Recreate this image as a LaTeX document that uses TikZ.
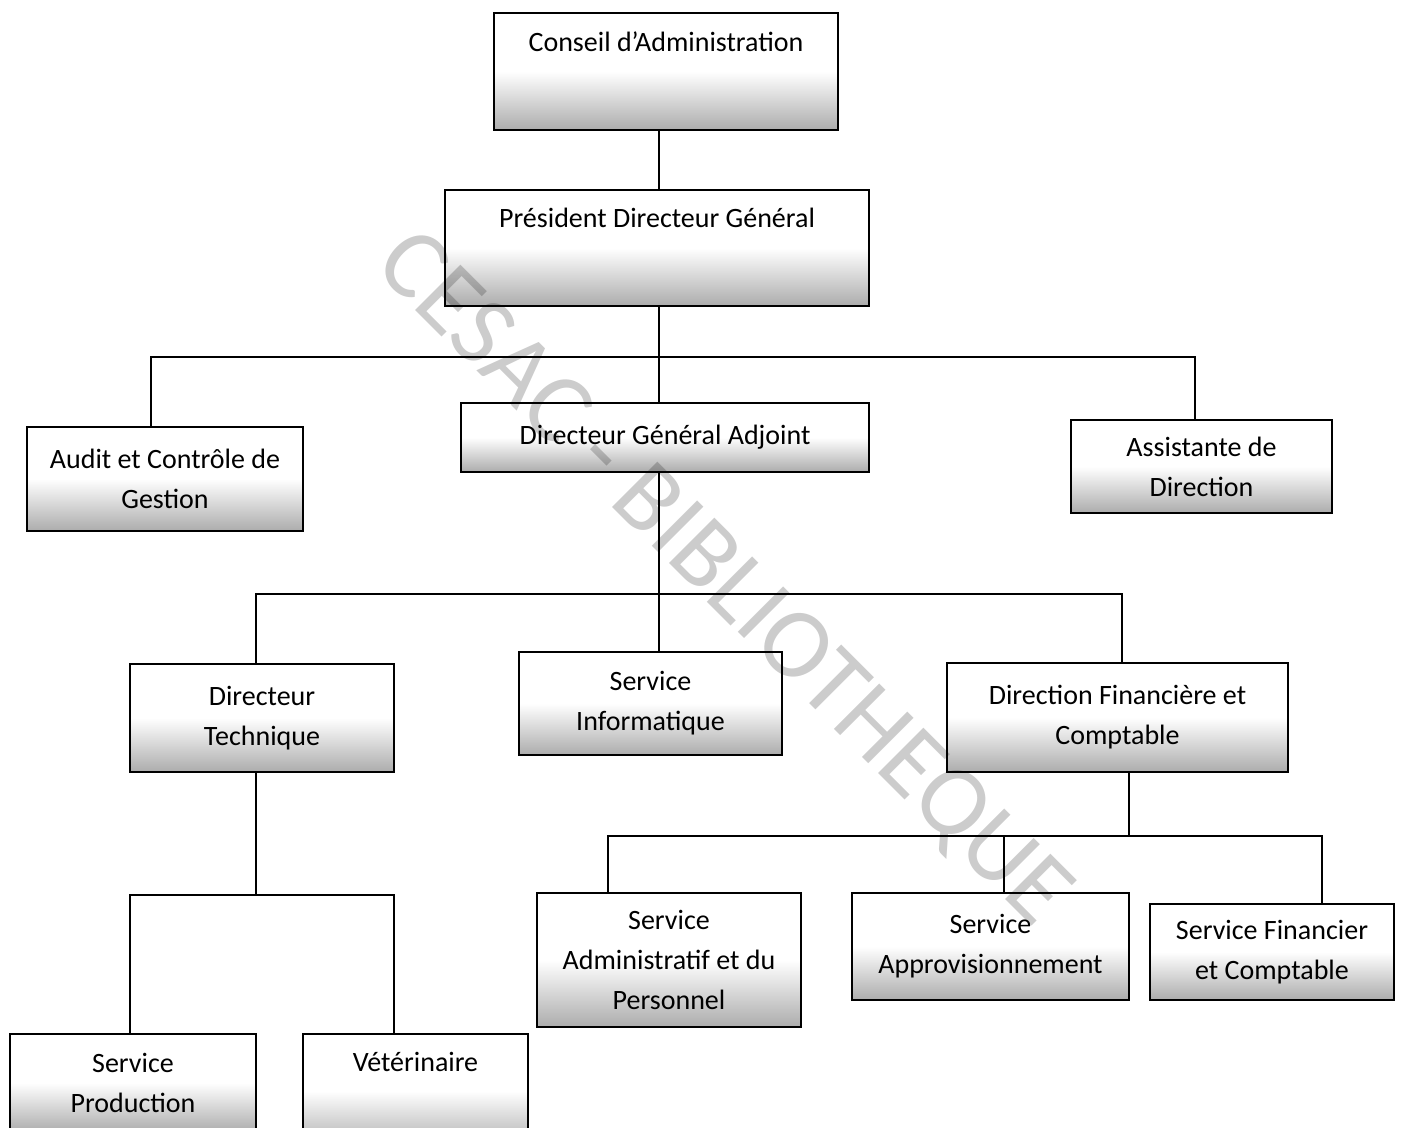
\documentclass[tikz,border=0pt]{standalone}
\usepackage{fontspec}
\setmainfont{Carlito}
\usepackage{tikz}
\usetikzlibrary{positioning,calc}

\tikzset{
  orgbox/.style={draw, line width=0.9pt, align=center, inner sep=2pt,
    top color=white, bottom color=gray!65, middle color=white,
    font=\fontsize{14}{20}\selectfont},
  topline/.style={text height=10pt, text depth=30pt},
  link/.style={line width=0.7pt}
}

\begin{document}
\begin{tikzpicture}[x=0.5pt, y=-0.5pt]
    \clip (0,0) rectangle (1404,1128);

    % Direction
    \node [orgbox, topline, minimum width=172pt, minimum height=58.5pt] (conseil) at (666,71.5) {Conseil d’Administration};
    \node [orgbox, topline, minimum width=212pt, minimum height=58pt] (pdg) at (657,248) {Président Directeur Général};
    \node [orgbox, minimum width=138pt, minimum height=52pt] (audit) at (165,479) {Audit et Contrôle de\\Gestion};
    \node [orgbox, minimum width=204pt, minimum height=34.5pt] (dga) at (665,437.5) {Directeur Général Adjoint};
    \node [orgbox, minimum width=130.5pt, minimum height=46.5pt] (assist) at (1201.5,466.5) {Assistante de\\Direction};

    % Directions et services
    \node [orgbox, minimum width=132pt, minimum height=54pt] (dtech) at (262,718) {Directeur\\Technique};
    \node [orgbox, minimum width=131.5pt, minimum height=51.5pt] (sinfo) at (650.5,703.5) {Service\\Informatique};
    \node [orgbox, minimum width=170.5pt, minimum height=54.5pt] (dfin) at (1117.5,717.5) {Direction Financière et\\Comptable};
    \node [orgbox, minimum width=132pt, minimum height=67pt] (sadmin) at (669,960) {Service\\Administratif et du\\Personnel};
    \node [orgbox, minimum width=138.5pt, minimum height=53.5pt] (sappro) at (990.5,946.5) {Service\\Approvisionnement};
    \node [orgbox, minimum width=122pt, minimum height=48pt] (sfin) at (1272,952) {Service Financier\\et Comptable};
    \node [orgbox, minimum width=123pt, minimum height=49pt] (sprod) at (133,1083) {Service\\Production};
    \node [orgbox, topline, minimum width=112.5pt, minimum height=57pt] (veto) at (415.5,1091) {Vétérinaire};

    % Liaisons
    \coordinate (bus1) at (659,357);
    \coordinate (bus1a) at (151,357);
    \coordinate (bus1b) at (1195,357);
    \draw [link] (conseil.south -| bus1) -- (pdg.north -| bus1);
    \draw [link] (pdg.south -| bus1) -- (dga.north -| bus1);
    \draw [link] (audit.north -| bus1a) -- (bus1a) -- (bus1b) -- (assist.north -| bus1b);

    \coordinate (bus2) at (659,594);
    \coordinate (bus2a) at (256,594);
    \coordinate (bus2b) at (1122,594);
    \draw [link] (dga.south -| bus2) -- (sinfo.north -| bus2);
    \draw [link] (dtech.north -| bus2a) -- (bus2a) -- (bus2b) -- (dfin.north -| bus2b);

    \coordinate (bus3) at (256,895);
    \coordinate (bus3a) at (130,895);
    \coordinate (bus3b) at (394,895);
    \draw [link] (dtech.south -| bus3) -- (bus3);
    \draw [link] (sprod.north -| bus3a) -- (bus3a) -- (bus3b) -- (veto.north -| bus3b);

    \coordinate (bus4) at (1129,836);
    \coordinate (bus4a) at (608,836);
    \coordinate (bus4b) at (1322,836);
    \coordinate (bus4c) at (1004,836);
    \draw [link] (dfin.south -| bus4) -- (bus4);
    \draw [link] (sadmin.north -| bus4a) -- (bus4a) -- (bus4b) -- (sfin.north -| bus4b);
    \draw [link] (bus4c) -- (sappro.north -| bus4c);

    % Filigrane
    \node [rotate=-45, text=black, text opacity=0.2, font=\fontsize{50}{50}\selectfont] (stamp) at (722,580) {CESAC - BIBLIOTHEQUE};
\end{tikzpicture}
\end{document}
